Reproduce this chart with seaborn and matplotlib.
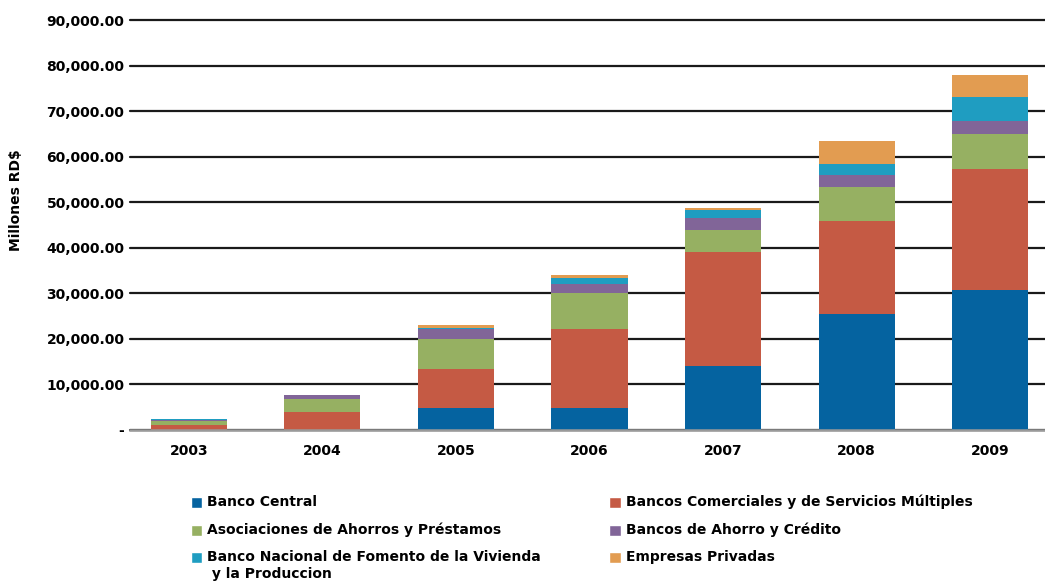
import pandas as pd
import matplotlib.pyplot as plt
import seaborn as sns
from matplotlib.patches import Patch, Rectangle
from matplotlib.legend_handler import HandlerPatch
from matplotlib.ticker import FuncFormatter

# datos (millones RD$)
years = [2003, 2004, 2005, 2006, 2007, 2008, 2009]
sectors = [
    'Banco Central',
    'Bancos Comerciales y de Servicios Múltiples',
    'Asociaciones de Ahorros y Préstamos',
    'Bancos de Ahorro y Crédito',
    'Banco Nacional de Fomento de la Vivienda\n y la Produccion',
    'Empresas Privadas',
]
banco_central = [0, 0, 4900, 4900, 14100, 25500, 30700]
bancos_comerciales = [1100, 4000, 8500, 17300, 24950, 20400, 26650]
asociaciones = [950, 2800, 6600, 7900, 4850, 7400, 7650]
bancos_ahorro = [200, 900, 2200, 1900, 2700, 2700, 2800]
banco_nacional = [150, 0, 250, 1400, 1750, 2450, 5300]
empresas_privadas = [0, 0, 600, 600, 350, 5000, 4800]
colors = ['#0563A0', '#C55A44', '#96B062', '#816598', '#1F9DC1', '#E29C51']

series = [banco_central, bancos_comerciales, asociaciones,
          bancos_ahorro, banco_nacional, empresas_privadas]
rows = []
for sector, vals in zip(sectors, series):
    for y, v in zip(years, vals):
        rows.append({'year': y, 'sector': sector, 'value': v})
df = pd.DataFrame(rows)

sns.set_style('white')
plt.rcParams['font.family'] = ['DejaVu Sans']
plt.rcParams['font.weight'] = 'bold'
for k in ['text.color', 'axes.labelcolor', 'xtick.color', 'ytick.color']:
    plt.rcParams[k] = 'black'

fig = plt.figure(figsize=(10.45, 5.84), dpi=100)
ax = fig.add_axes([130 / 1045, 1 - 430 / 584, (1045 - 130) / 1045, 410 / 584])

# el ultimo nivel de hue queda abajo en la pila
sns.histplot(data=df, x='year', weights='value', hue='sector',
             hue_order=sectors[::-1], palette=colors[::-1],
             multiple='stack', discrete=True, shrink=0.57,
             linewidth=0, alpha=1, legend=False, ax=ax)

ax.set_xlim(2003 - 0.44, 2009 + 0.41)
ax.set_ylim(0, 90000)
ax.set_yticks(range(0, 90001, 10000))
ax.yaxis.set_major_formatter(FuncFormatter(lambda v, p: '-' if v == 0 else f'{v:,.2f}'))
ax.set_xticks(years)
ax.set_xticklabels([str(y) for y in years])
ax.tick_params(axis='both', length=0, labelsize=10)
ax.tick_params(axis='y', pad=4)
ax.tick_params(axis='x', pad=10)
ax.set_xlabel('')
ax.set_ylabel('Millones RD$', fontsize=10, fontweight='bold')
ax.yaxis.set_label_coords(-0.117, 0.56)

ax.grid(axis='y', color='#1a1a1a', linewidth=1.6)
ax.set_axisbelow(True)
for gl in ax.yaxis.get_gridlines():
    gl.set_clip_on(False)
for s in ['top', 'right', 'left']:
    ax.spines[s].set_visible(False)
ax.spines['bottom'].set_color('#9a9a9a')
ax.spines['bottom'].set_linewidth(1.8)


# cuadrito de leyenda; el de dos lineas va arriba
def square(legend, orig_handle, xdescent, ydescent, width, height, fontsize):
    shift = 0.72 * fontsize if '\n' in orig_handle.get_label() else 0
    return Rectangle((-xdescent, -ydescent - 0.08 * fontsize + shift), width, height)


order = [0, 2, 4, 1, 3, 5]
handles = [Patch(facecolor=colors[i], label=sectors[i]) for i in order]
fig.legend(handles=handles, ncol=2, loc='upper left',
           bbox_to_anchor=(178 / 1045, 1 - 482 / 584), frameon=False,
           fontsize=10, handlelength=0.85, handleheight=0.85,
           handletextpad=0.32, columnspacing=4.95, labelspacing=0.97,
           handler_map={Patch: HandlerPatch(patch_func=square)})

plt.savefig('out.png', dpi=100)
